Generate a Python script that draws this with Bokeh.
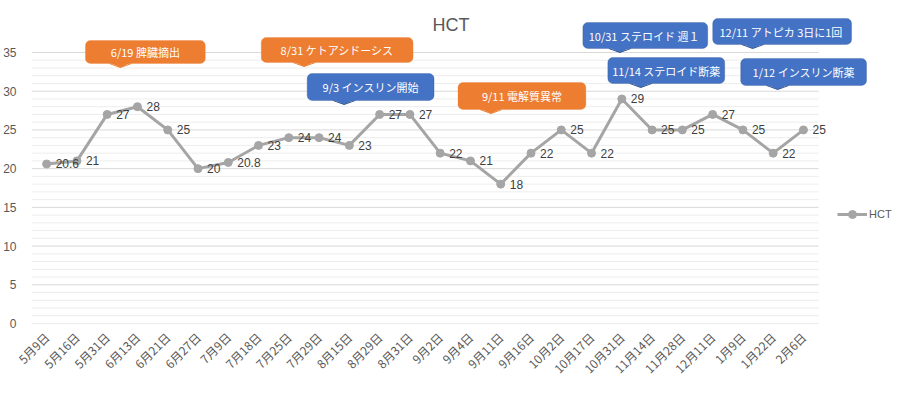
from bokeh.plotting import figure
from bokeh.models import Range1d, FixedTicker, BoxAnnotation, Legend, LegendItem
from bokeh.core.properties import value
from bokeh.embed import file_html
from bokeh.resources import INLINE
import math

# ---------------- data ----------------
dates = ["5月9日", "5月16日", "5月31日", "6月13日", "6月21日", "6月27日", "7月9日",
         "7月18日", "7月25日", "7月29日", "8月15日", "8月29日", "8月31日", "9月2日",
         "9月4日", "9月11日", "9月16日", "10月2日", "10月17日", "10月31日", "11月14日",
         "11月28日", "12月11日", "1月9日", "1月22日", "2月6日"]
hct = [20.6, 21, 27, 28, 25, 20, 20.8, 23, 24, 24, 23, 27, 27, 22, 21, 18, 22, 25,
       22, 29, 25, 25, 27, 25, 22, 25]
y_ticks = [0, 5, 10, 15, 20, 25, 30, 35]

callout_texts = ["6/19 脾臓摘出", "8/31 ケトアシドーシス", "9/3 インスリン開始",
                 "9/11 電解質異常", "10/31 ステロイド  週１", "12/11 アトピカ  3日に1回",
                 "11/14 ステロイド断薬", "1/12 インスリン断薬"]
callout_kinds = ["o", "o", "b", "o", "b", "b", "b", "b"]

# ---------------- layout (pixels) ----------------
W, H = 901, 394
FL, FB = 30, 323           # frame left / bottom pixel
PX_X = 788 / 26            # pixels per category
PX_Y = 271 / 35            # pixels per y unit

def px2x(px):
    return -0.5 + (px - FL) / PX_X

def px2y(py):
    return (FB - py) / PX_Y

callout_boxes = [  # left, top, right, bottom, pointer x, tip y  (pixels)
    (84, 40, 204, 63, 119, 67),
    (260, 37, 412, 62, 303, 66),
    (306, 73, 433, 100, 343, 104),
    (457, 82, 585, 109, 490, 113),
    (582, 22, 707, 48, 619, 52),
    (712, 18, 851, 44, 752, 48),
    (607, 57, 724, 83, 640, 87),
    (740, 58, 866, 85, 777, 89),
]
fills = {"o": "#ED7D31", "b": "#4472C4"}
borders = {"o": "#ED7D31", "b": "#2F528F"}

p = figure(width=W, height=H, output_backend="svg", toolbar_location=None,
           x_range=Range1d(px2x(FL), px2x(W)), y_range=Range1d(0, px2y(0)),
           min_border_left=FL, min_border_right=0, min_border_top=0,
           min_border_bottom=H - FB)
p.outline_line_color = None
p.xgrid.visible = False
p.ygrid.visible = False
p.background_fill_color = "white"
p.border_fill_color = "white"

# gridlines (drawn only across the plot area)
x0, x1 = -0.5, len(dates) - 0.5
minor = [v for v in range(0, 36) if v % 5 != 0]
p.segment(x0=[x0] * len(minor), x1=[x1] * len(minor), y0=minor, y1=minor,
          line_color="#EDEDED", line_width=1)
p.segment(x0=[x0] * len(y_ticks), x1=[x1] * len(y_ticks), y0=y_ticks, y1=y_ticks,
          line_color="#D9D9D9", line_width=1)

# axes
xs = list(range(len(dates)))
p.xaxis.ticker = FixedTicker(ticks=xs)
p.xaxis.major_label_overrides = {i: d for i, d in enumerate(dates)}
p.xaxis.major_label_orientation = math.pi / 4
p.xaxis.axis_line_color = None
p.xaxis.major_tick_line_color = None
p.xaxis.minor_tick_line_color = None
p.xaxis.major_label_text_font = "Noto Sans CJK JP"
p.xaxis.major_label_text_font_size = "12px"
p.xaxis.major_label_text_color = "#595959"
p.xaxis.major_label_standoff = 5

p.yaxis.ticker = FixedTicker(ticks=y_ticks)
p.yaxis.axis_line_color = None
p.yaxis.major_tick_line_color = None
p.yaxis.minor_tick_line_color = None
p.yaxis.major_label_text_font = "Liberation Sans"
p.yaxis.major_label_text_font_size = "12px"
p.yaxis.major_label_text_color = "#595959"
p.yaxis.major_label_standoff = 9

# series
ln = p.line(xs, hct, line_color="#A5A5A5", line_width=3)
sc = p.scatter(xs, hct, size=8, fill_color="#A5A5A5", line_color="#A5A5A5")
p.text(xs, hct, text=[("%g" % v) for v in hct], x_offset=9, text_baseline="middle",
       text_align="left", text_font=value("Liberation Sans"), text_font_size="12px",
       text_color="#404040")

# title
p.text([px2x(450)], [px2y(24)], text=["HCT"], text_align="center", text_baseline="middle",
       text_font=value("Liberation Sans"), text_font_size="18px", text_color="#595959")

# callouts
for t, k, (l, tp, r, b, pxp, ty) in zip(callout_texts, callout_kinds, callout_boxes):
    box = BoxAnnotation(left=px2x(l), right=px2x(r), top=px2y(tp), bottom=px2y(b),
                        fill_color=fills[k], fill_alpha=1, line_color=borders[k],
                        line_width=1, border_radius=5, level="annotation")
    p.add_layout(box)
    hw = 11
    p.patch([px2x(pxp - hw), px2x(pxp), px2x(pxp + hw)],
            [px2y(b - 1), px2y(ty), px2y(b - 1)],
            fill_color=fills[k], line_color=None, level="overlay")
    p.line([px2x(pxp - hw), px2x(pxp), px2x(pxp + hw)],
           [px2y(b), px2y(ty), px2y(b)], line_color=borders[k], line_width=1,
           level="overlay")
    p.text([px2x((l + r) / 2)], [px2y((tp + b) / 2)], text=[t], text_align="center",
           text_baseline="middle", text_font=value("Noto Sans CJK JP"),
           text_font_size="11px", text_color="white", level="overlay")

# legend
legend = Legend(items=[LegendItem(label="HCT", renderers=[ln, sc])],
                location=(806, 99), orientation="vertical")
legend.border_line_color = None
legend.background_fill_alpha = 0
legend.padding = 0
legend.margin = 0
legend.glyph_width = 30
legend.label_standoff = 2
legend.label_text_font = "Liberation Sans"
legend.label_text_font_size = "11px"
legend.label_text_color = "#595959"
p.add_layout(legend, "center")

open("out.html", "w").write(file_html(p, INLINE))
